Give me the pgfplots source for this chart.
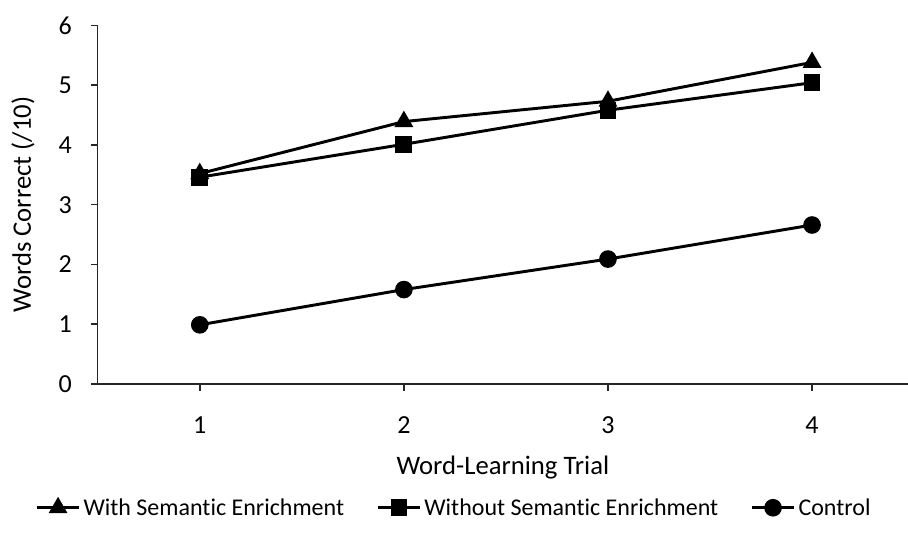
\documentclass[border=0pt]{standalone}
\usepackage{fontspec}
\setmainfont{Carlito}[Ligatures=NoCommon]
\usepackage{pgfplots}
\pgfplotsset{compat=1.18}
\begin{document}
\begin{tikzpicture}
\useasboundingbox (-73.3pt,-117pt) rectangle (607.7pt,288pt);
\begin{axis}[
  at={(0pt,0pt)}, anchor=south west,
  scale only axis, width=607.7pt, height=269pt,
  xmin=0.5, xmax=4.47, ymin=0, ymax=6,
  axis x line=bottom, axis y line=left,
  axis line style={-, line width=1.1pt, black!85},
  every tick/.style={line width=1.1pt, black!85},
  tick align=outside, major tick length=5pt,
  xtick={1,2,3,4}, ytick={0,1,2,3,4,5,6},
  /pgf/number format/assume math mode=true,
  tick label style={font=\fontsize{19.5}{23}\selectfont},
  yticklabel style={xshift=-11pt},
  xticklabel style={yshift=-16pt},
  xlabel={Word-Learning Trial},
  ylabel={Words Correct (/10)},
  every axis x label/.style={at={(axis description cs:0.5,-0.234)}, anchor=center, font=\fontsize{20}{24}\selectfont},
  every axis y label/.style={at={(axis description cs:-0.0922,0.5)}, anchor=center, rotate=90, font=\fontsize{20}{24}\selectfont},
  legend style={at={(axis description cs:0.44,-0.345)}, anchor=center, draw=none,
    font=\fontsize{18}{21}\selectfont, legend columns=3,
    /tikz/every even column/.append style={column sep=22pt},
    inner sep=0pt, nodes={inner xsep=2pt}, cells={anchor=west}},
  legend image code/.code={\draw[mark repeat=2,mark phase=2,#1] plot coordinates {(0pt,0pt) (16pt,0pt) (32pt,0pt)};},
  clip=false,
]
\addplot[black, line width=2.2pt, mark=triangle*, mark size=6pt, mark options={solid}] coordinates {(1,3.52) (2,4.39) (3,4.73) (4,5.38)};
\addlegendentry{With Semantic Enrichment}
\addplot[black, line width=2.2pt, mark=square*, mark size=5.2pt] coordinates {(1,3.46) (2,4.01) (3,4.58) (4,5.04)};
\addlegendentry{Without Semantic Enrichment}
\addplot[black, line width=2.2pt, mark=*, mark size=5.5pt] coordinates {(1,0.99) (2,1.58) (3,2.09) (4,2.66)};
\addlegendentry{Control}
\end{axis}
\end{tikzpicture}
\end{document}
